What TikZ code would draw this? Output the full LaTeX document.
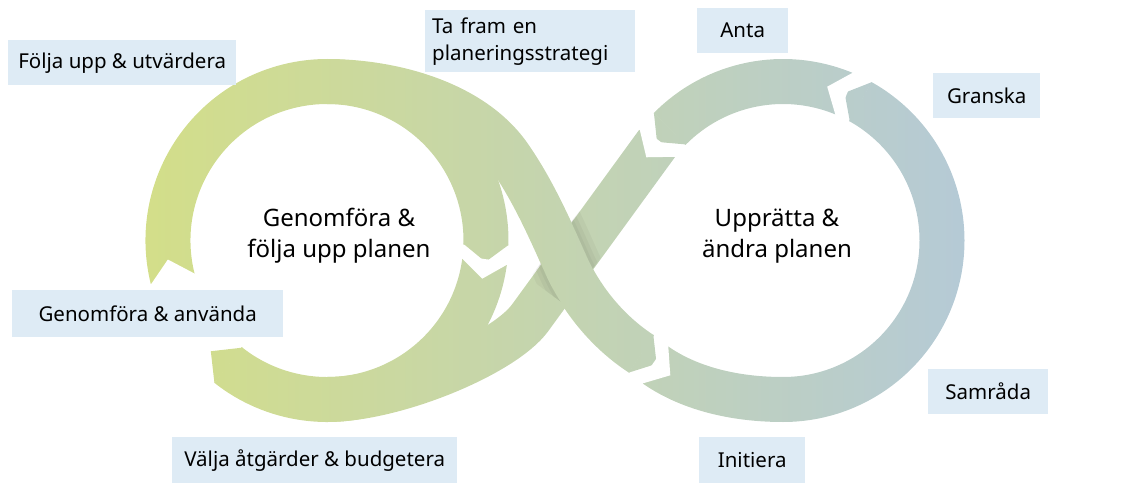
\documentclass[tikz,border=0pt]{standalone}
\usepackage{fontspec}
\setmainfont{Noto Sans}
\usetikzlibrary{calc}
\definecolor{bandL}{RGB}{211,222,137}
\definecolor{bandR}{RGB}{181,202,214}
\definecolor{boxbg}{RGB}{222,235,245}
\newcommand\chtip[3]{\fill[black] ($#1+(#2+90:22.6)+(#2:-0.6)$) -- ($#1+(#2:#3)$) -- ($#1+(#2-90:22.6)+(#2:-0.6)$) -- cycle;}
\newcommand\chnotch[3]{\fill[white] ($#1+(#2+90:26)+(#2:-0.16*#3)$) -- ($#1+(#2:#3)$) -- ($#1+(#2-90:26)+(#2:-0.16*#3)$) -- cycle;}
\tikzset{
  band/.style={line width=45pt, draw=black},
  lbl/.style={fill=boxbg, inner sep=0pt, text=black, font=\fontsize{20.5}{27}\selectfont},
  ctr/.style={align=center, text=black, font=\fontsize{24}{31}\selectfont}
}
\begin{document}
\begin{tikzpicture}[x=1pt, y=-1pt]
\useasboundingbox (0,0) rectangle (1125,500);
\fill[white] (0,0) rectangle (1125,500);
\coordinate (L) at (327,240.5);
\coordinate (R) at (783,240.5);
% ---- mask of the bands (black) ----
\draw[band] ($(L)+(166:159)$) arc[start angle=166, end angle=361.6, radius=159];
\draw[band] ($(L)+(7.7:159)$) arc[start angle=7.7, end angle=128.5, radius=159];
\draw[band] (327,81.5) .. controls (392,81.5) and (471.7,102.8) .. (509,156)
   .. controls (532.5,189.6) and (549.3,227.5) .. (566,265)
   .. controls (581.9,300.6) and (608.8,332.8) .. (641.5,354);
\draw[band] (655.5,365) .. controls (692.4,390.7) and (740,399.5) .. (783,399.5)
   arc[start angle=90, end angle=-60.9, radius=159];
\draw[band] ($(R)+(-67.5:159)$) arc[start angle=-67.5, end angle=-135.5, radius=159];
\draw[band] ($(R)+(-142.2:159)$) -- (530,318) .. controls (503.3,354.2) and (395,399.5) .. (327,399.5);
\chtip{(L)+(361.6:159)}{91.6}{17}
\chtip{(L)+(128.5:159)}{218.5}{22}
\chtip{(641.5,354)}{33}{18}
\chtip{(R)+(-60.9:159)}{-150.9}{18}
\chtip{(R)+(-135.5:159)}{-225.5}{18}
\chnotch{(L)+(166:159)}{256}{20}
\chnotch{(L)+(7.7:159)}{97.7}{17}
\chnotch{(655.5,365)}{34.8}{18}
\chnotch{(R)+(-67.5:159)}{-157.5}{18}
\chnotch{(R)+(-142.2:159)}{-232.2}{18}
% ---- colour the mask ----
\begin{scope}[blend mode=screen]
\shade[left color=bandL, right color=bandR] (144,48) rectangle (966,432);
\end{scope}
% ---- soft shadow where the bands cross ----
\begin{scope}
\clip (616.1,236.9) -- (580,210.1) -- (529.4,278.5) -- (565.6,305.3) -- cycle;
\foreach \w in {3,7,12} {
  \foreach \a in {-24,156} {
    \draw[black, opacity=0.035, line width=\w pt, shift={(\a:{22.5+\w/2})}]
      (509,156) .. controls (532.5,189.6) and (549.3,227.5) .. (566,265)
      .. controls (581.9,300.6) and (608.8,332.8) .. (641.5,354);
  }
}
\end{scope}
% ---- labels ----
\node[lbl, minimum width=228pt, minimum height=45pt, anchor=north west] (b1) at (8,40) {Följa upp \& utvärdera};
\node[lbl, minimum width=210pt, minimum height=62pt, anchor=north west, inner xsep=7pt, text width=196pt, align=left] (b2) at (425,10) {Ta fram en\\planeringsstrategi};
\node[lbl, minimum width=91pt, minimum height=45pt, anchor=north west] (b3) at (697,8) {Anta};
\node[lbl, minimum width=107pt, minimum height=45pt, anchor=north west] (b4) at (933,73) {Granska};
\node[lbl, minimum width=271pt, minimum height=47pt, anchor=north west] (b5) at (12,290) {Genomföra \& använda};
\node[lbl, minimum width=120pt, minimum height=45pt, anchor=north west] (b6) at (928,369) {Samråda};
\node[lbl, minimum width=285pt, minimum height=46pt, anchor=north west] (b7) at (172,437) {Välja åtgärder \& budgetera};
\node[lbl, minimum width=106pt, minimum height=46pt, anchor=north west] (b8) at (699,437) {Initiera};
\node[ctr] (c1) at (339,236) {Genomföra \&\\följa upp planen};
\node[ctr] (c2) at (777,236) {Upprätta \&\\ändra planen};
\end{tikzpicture}
\end{document}
